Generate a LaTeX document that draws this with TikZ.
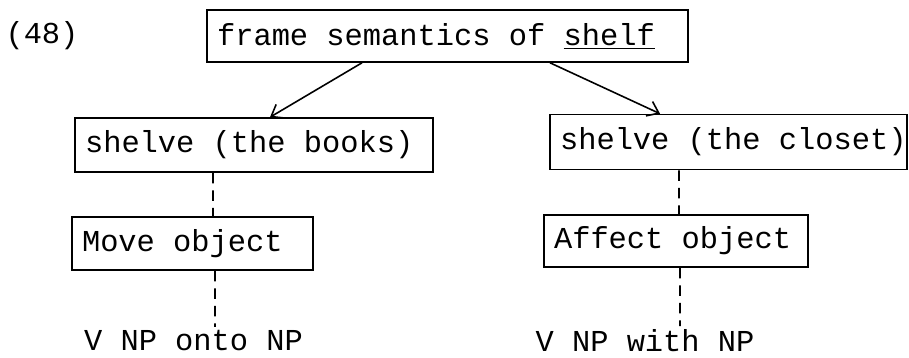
\documentclass[tikz,border=0pt]{standalone}
\usepackage{fontspec}
\setmonofont{Liberation Mono}[WordSpace={1,0,0}]
\usepackage{tikz}
\usetikzlibrary{arrows.meta}
\tikzset{
  frame/.style={draw,line width=0.9pt,inner xsep=0.2cm,
                font=\ttfamily\fontsize{17.3}{21}\selectfont,
                execute at begin node={\hbox to #1\bgroup},
                execute at end node={\hss\egroup}},
  plain/.style={inner sep=2pt,font=\ttfamily\fontsize{17.3}{21}\selectfont},
  arr/.style={line width=0.9pt,-{Straight Barb[length=6pt,width=9pt]}},
  link/.style={line width=0.9pt,dash pattern=on 6pt off 4pt},
}

\begin{document}
\begin{tikzpicture}[x=0.02cm,y=-0.02cm]
  \useasboundingbox (0,0) rectangle (909,358);
  \node[plain] (num) at (42,36) {(48)};
  \node[frame=9.22cm,minimum height=1.04cm] (shelf) at (447.5,36)
        {frame semantics of \underline{shelf}};
  \node[frame=6.76cm,minimum height=1.08cm] (books) at (254,145)
        {shelve (the books)};
  \node[frame=6.74cm,minimum height=1.1cm] (closet) at (728.5,142)
        {shelve (the closet)};
  \node[frame=4.42cm,minimum height=1.06cm] (move) at (192.5,243.5)
        {Move object};
  \node[frame=4.88cm,minimum height=1.04cm] (affect) at (676,241)
        {Affect object};
  \node[plain] (onto) at (193.5,341) {V NP onto NP};
  \node[plain] (with) at (645,341) {V NP with NP};
  \draw[arr] ([xshift=-1.71cm]shelf.south) -- ([xshift=0.32cm]books.north);
  \draw[arr] ([xshift=2.05cm]shelf.south) -- ([xshift=-1.37cm]closet.north);
  \draw[link] ([xshift=-0.82cm]books.south) -- ([xshift=0.41cm]move.north);
  \draw[link] ([xshift=0.45cm]move.south) -- ([xshift=0.43cm]onto.north);
  \draw[link] ([xshift=-0.99cm]closet.south) -- ([xshift=0.06cm]affect.north);
  \draw[link] ([xshift=0.08cm]affect.south) -- ([xshift=0.7cm]with.north);
\end{tikzpicture}
\end{document}
